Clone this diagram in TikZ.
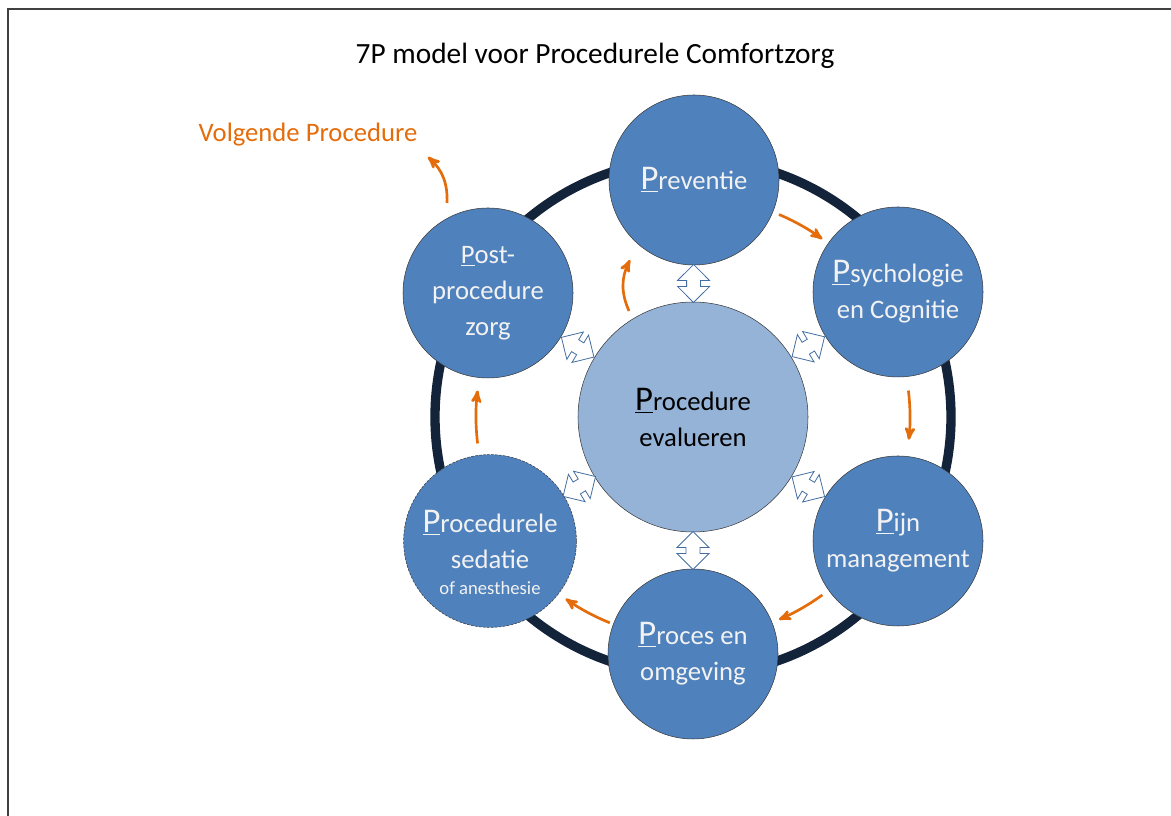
\documentclass[tikz,border=0pt]{standalone}
\usepackage{fontspec}
\setmainfont{Carlito}
\usetikzlibrary{arrows, shapes, calc}
\definecolor{ringblue}{HTML}{13233A}
\definecolor{phaseblue}{HTML}{4F81BD}
\definecolor{evalblue}{HTML}{95B3D7}
\definecolor{floworange}{HTML}{E46C0A}
\definecolor{rimgray}{HTML}{3A3A3A}
\newcommand{\bigP}{\underline{\fontsize{26}{27}\selectfont P}}
\tikzset{
        >=stealth', % bold arrow heads
        x=0.75pt, y=0.75pt, % one unit is one pixel of the original
        phase/.style={circle, fill=phaseblue, draw=rimgray, thin,
                minimum size=127.5pt, inner sep=0pt, text=white!95!black,
                align=center, font=\fontsize{20}{27}\selectfont}, % the six P's
        evaluation/.style={circle, fill=evalblue, draw=rimgray, thin,
                minimum size=172.5pt, inner sep=0pt, align=center,
                font=\fontsize{20}{27}\selectfont}, % the middle P
        ring/.style={draw=ringblue, line width=7pt},
        flow/.style={->, draw=floworange, line width=2pt}, % the cycle
        hollow/.style={double arrow, draw=phaseblue!85!black, fill=white,
                line width=0.6pt, minimum height=28.5pt, inner sep=4.9pt,
                double arrow head extend=6.8pt, double arrow head indent=0pt},
        frame/.style={draw=black!75, line width=1.1pt},
    }

\begin{document}
\begin{tikzpicture}
    \useasboundingbox (0,0) rectangle (1171,816);
    \draw[frame] (8,0) -- (8,807) -- (1171,807);
    \node[font=\fontsize{22}{26}\selectfont] (title) at (595,760) {7P model voor Procedurele Comfortzorg};

    % the ring behind the circles
    \coordinate (hub) at (693,399);
    \draw[ring] (hub) circle[radius=258];

    \node[evaluation] (eval) at (hub) {\bigP rocedure\\evalueren};
    \node[phase] (pre) at (694,636) {\bigP reventie};
    \node[phase] (psy) at (898,524) {\bigP sychologie\\en Cognitie};
    \node[phase] (pijn) at (898,275) {\bigP ijn\\management};
    \node[phase] (proc) at (693,162) {\bigP roces en\\omgeving};
    \node[phase, dash pattern=on 2pt off 1pt] (sed) at (490,275)
        {\rule{0pt}{34pt}\bigP rocedurele\\sedatie\\[-7pt]{\fontsize{14}{16}\selectfont of anesthesie}};
    \node[phase] (post) at (488,523) {\underline{P}ost-\\procedure\\zorg};

    % two way arrows to the middle
    \foreach \p in {pre, psy, pijn, proc, sed, post}
        \path (eval) -- node[hollow, sloped] {} (\p);

    % clockwise flow
    \draw[flow] ([shift={(67:220)}]hub) arc[start angle=67, end angle=54, radius=220];
    \draw[flow] ([shift={(7:217)}]hub) arc[start angle=7, end angle=-6, radius=217];
    \draw[flow] ([shift={(-54:220)}]hub) arc[start angle=-54, end angle=-67, radius=220];
    \draw[flow] ([shift={(-112:222)}]hub) arc[start angle=-112, end angle=-125, radius=222];
    \draw[flow] ([shift={(187:217)}]hub) arc[start angle=187, end angle=173, radius=217];
    \coordinate (back from) at (629,505);
    \coordinate (back to) at (630,556);
    \draw[flow] (back from) to[bend left=25] (back to);

    \node[text=floworange, font=\fontsize{20}{24}\selectfont] (next) at (308,681) {Volgende Procedure};
    \coordinate (next from) at (447,613);
    \coordinate (next to) at (428,659);
    \draw[flow] (next from) to[bend right=25] (next to);
\end{tikzpicture}
\end{document}
